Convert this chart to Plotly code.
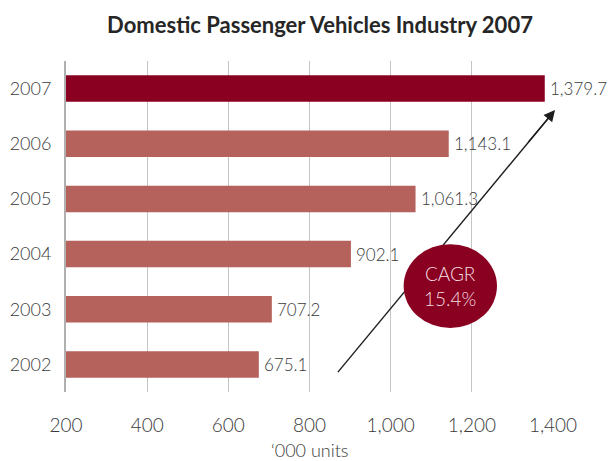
import plotly.graph_objects as go

# Domestic passenger vehicle sales, thousand units
years = ["2002", "2003", "2004", "2005", "2006", "2007"]
units = [675.1, 707.2, 902.1, 1061.3, 1143.1, 1379.7]
value_labels = ["675.1", "707.2", "902.1", "1,061.3", "1,143.1", "1,379.7"]
x_ticks = [200, 400, 600, 800, 1000, 1200, 1400]
cagr_text = "CAGR<br>15.4%"

DARK = "#8A0021"
LIGHT = "#B5625C"
TEXT = "#3A3A3A"
FONT = "Lato"

pos = list(range(len(years)))
colors = [DARK if y == "2007" else LIGHT for y in years]

fig = go.Figure()
fig.add_trace(go.Bar(
    y=pos,
    x=[u - 200 for u in units],
    base=200,
    orientation="h",
    marker=dict(color=colors, line=dict(width=0)),
    hoverinfo="skip",
))

# value labels just right of each bar end
for p, u, lab in zip(pos, units, value_labels):
    fig.add_annotation(x=u, y=p, xref="x", yref="y", text=lab,
                       xanchor="left", xshift=3, showarrow=False,
                       font=dict(family=FONT, size=17, color=TEXT, weight=300))

# growth arrow: shaft as a line, ellipse on top, head as an annotation
tail = (870, -0.14)
head = (1405, 4.61)
fig.add_shape(type="line", xref="x", yref="y",
              x0=tail[0], y0=tail[1], x1=head[0], y1=head[1],
              line=dict(color="#1E1E1E", width=1.4), layer="above")
fig.add_shape(type="circle", xref="x", yref="y",
              x0=1032, x1=1262, y0=0.66, y1=2.18,
              fillcolor=DARK, line=dict(width=0), layer="above")
fig.add_annotation(x=head[0], y=head[1], ax=1337, ay=4.01,
                   xref="x", yref="y", axref="x", ayref="y",
                   text="", showarrow=True, arrowhead=2, arrowsize=1.6,
                   arrowwidth=1.4, arrowcolor="#1E1E1E")
fig.add_annotation(x=1147, y=1.42, xref="x", yref="y", text=cagr_text,
                   showarrow=False,
                   font=dict(family=FONT, size=19, color="#F4DCE0", weight=300))
fig.add_annotation(x=0.5, y=0, xref="paper", yref="paper",
                   yshift=-58, yanchor="middle", text="\u2018000 units",
                   showarrow=False,
                   font=dict(family=FONT, size=18, color=TEXT, weight=300))

fig.update_layout(
    width=608, height=461,
    margin=dict(l=66, r=55, t=61, b=69, autoexpand=False),
    paper_bgcolor="white", plot_bgcolor="white",
    showlegend=False,
    bargap=0.52,
    title=dict(text="<b>Domestic Passenger Vehicles Industry 2007</b>",
               x=320 / 608, xanchor="center", y=1 - 25 / 461, yanchor="middle",
               yref="container",
               font=dict(family=FONT, size=22, color="#262626")),
    xaxis=dict(range=[200, 1400], tickvals=x_ticks, tickformat=",",
               showgrid=True, gridcolor="#C4C4C4", gridwidth=1,
               zeroline=False, showline=False, ticks="", automargin=False,
               ticklabelstandoff=20,
               tickfont=dict(family=FONT, size=19, color=TEXT, weight=300),
               fixedrange=True),
    yaxis=dict(range=[-0.5, 5.5], tickvals=pos, ticktext=years,
               showgrid=False, zeroline=False, showline=True,
               linecolor="#B0B0B0", linewidth=2, ticks="", automargin=False,
               ticklabelstandoff=9,
               tickfont=dict(family=FONT, size=18, color=TEXT, weight=300),
               fixedrange=True),
)

fig.write_html("out.html")
